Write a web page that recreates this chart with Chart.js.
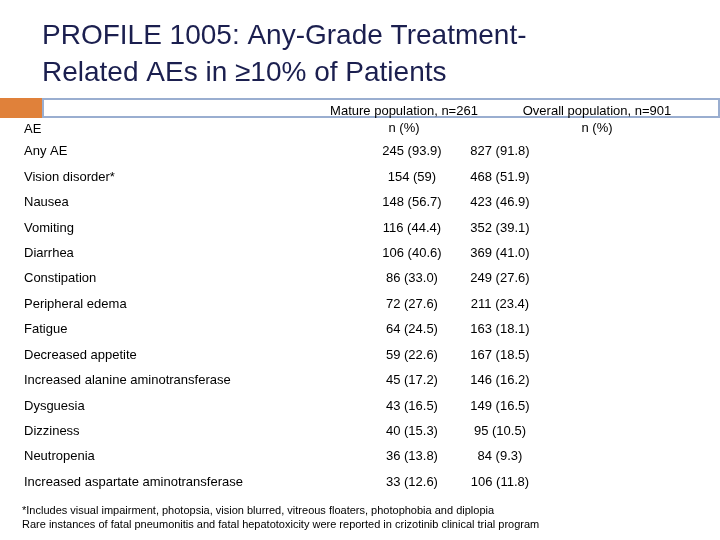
<!DOCTYPE html>
<html><head><meta charset="utf-8">
<script src="https://cdn.jsdelivr.net/npm/chart.js@4"></script>
<style>html,body{margin:0;padding:0;background:#fff}#w{width:720px;height:540px}</style>
</head><body><div id="w"><canvas id="c"></canvas></div>
<script>
const aeNames = ["Any AE","Vision disorder*","Nausea","Vomiting","Diarrhea","Constipation","Peripheral edema","Fatigue","Decreased appetite","Increased alanine aminotransferase","Dysguesia","Dizziness","Neutropenia","Increased aspartate aminotransferase"];
const matureN = [245,154,148,116,106,86,72,64,59,45,43,40,36,33];
const maturePct = ["93.9","59","56.7","44.4","40.6","33.0","27.6","24.5","22.6","17.2","16.5","15.3","13.8","12.6"];
const overallN = [827,468,423,352,369,249,211,163,167,146,149,95,84,106];
const overallPct = ["91.8","51.9","46.9","39.1","41.0","27.6","23.4","18.1","18.5","16.2","16.5","10.5","9.3","11.8"];
const columnHeads = ["AE","Mature population, n=261","Overall population, n=901"];
const titleLines = ["PROFILE 1005: Any-Grade Treatment-","Related AEs in \u226510% of Patients"];
const footnotes = ["*Includes visual impairment, photopsia, vision blurred, vitreous floaters, photophobia and diplopia","Rare instances of fatal pneumonitis and fatal hepatotoxicity were reported in crizotinib clinical trial program"];

const F = '"Liberation Sans", Arial, sans-serif';
const tablePlugin = {
  id:'tbl',
  afterDraw(chart){
    const ctx = chart.ctx, y = chart.scales.y, x = chart.scales.x;
    ctx.save();
    ctx.fillStyle = '#1b1f4f';
    ctx.font = '28px '+F; ctx.textBaseline='middle'; ctx.textAlign='left';
    ctx.fillText(titleLines[0],42,36); ctx.fillText(titleLines[1],42,73);
    ctx.fillStyle='#e0813a'; ctx.fillRect(0,98,42,20);
    ctx.fillStyle='#9aaed0'; ctx.fillRect(42,98,678,20);
    ctx.fillStyle='#fff'; ctx.fillRect(44,100,674,16);
    ctx.fillStyle='#000';
    ctx.font='13px '+F;
    ctx.fillText(columnHeads[0],24,129);
    ctx.textAlign='center';
    const c1 = x.getPixelForValue(1), c2 = x.getPixelForValue(2);
    ctx.fillText(columnHeads[1],404,111); ctx.fillText('n (%)',404,128);
    ctx.fillText(columnHeads[2],597,111); ctx.fillText('n (%)',597,128);
    aeNames.forEach((n,i)=>{
      const py = y.getPixelForValue(i);
      ctx.textAlign='left'; ctx.fillText(n,24,py);
      ctx.textAlign='center';
      ctx.fillText(matureN[i]+' ('+maturePct[i]+')',c1,py);
      ctx.fillText(overallN[i]+' ('+overallPct[i]+')',c2,py);
    });
    ctx.textAlign='left'; ctx.font='11px '+F;
    ctx.fillText(footnotes[0],22,511); ctx.fillText(footnotes[1],22,525);
    ctx.restore();
  }
};
new Chart(document.getElementById('c'),{
  type:'bar',
  data:{labels:aeNames,datasets:[{data:[],backgroundColor:'transparent'}]},
  options:{responsive:true,maintainAspectRatio:false,animation:false,indexAxis:'y',
    layout:{padding:{top:139,bottom:45,left:0,right:0}},
    plugins:{legend:{display:false},tooltip:{enabled:false}},
    scales:{
      y:{type:'category',display:false,offset:true},
      x:{type:'linear',min:-3.68,max:4.5,display:false}
    }},
  plugins:[tablePlugin]
});
</script></body></html>
